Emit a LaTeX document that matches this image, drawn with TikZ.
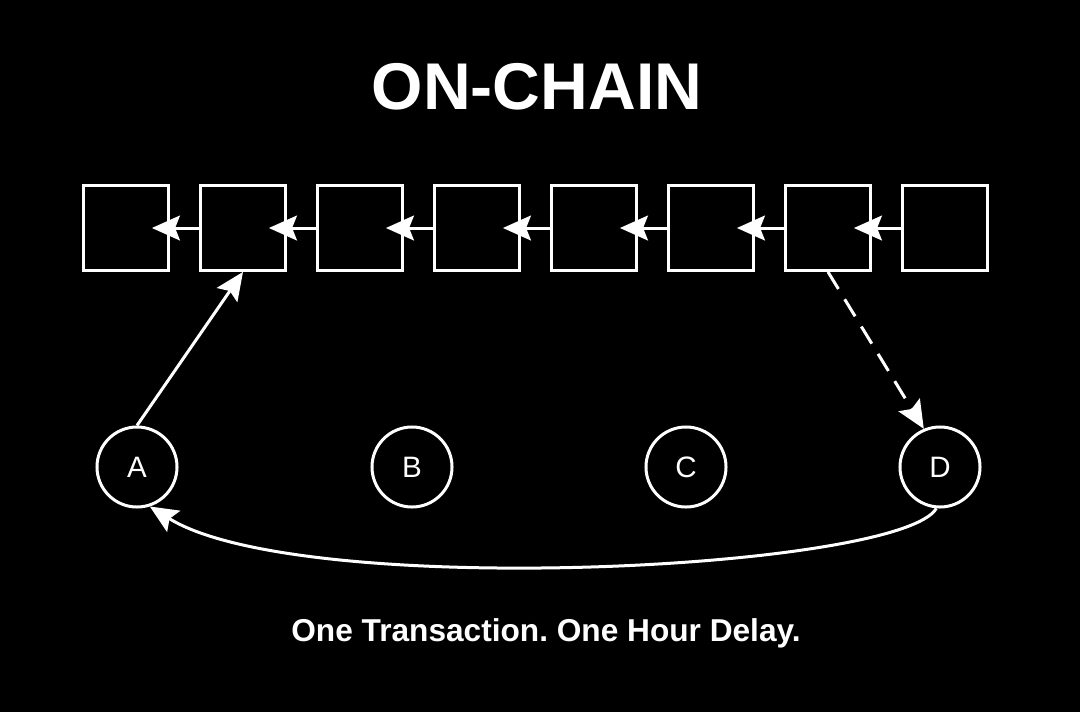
\documentclass[tikz,border=0pt]{standalone}
\usepackage{fontspec}
\setmainfont{Liberation Sans}
\usetikzlibrary{arrows.meta}
\frenchspacing

\begin{document}
\begin{tikzpicture}[x=0.025cm,y=-0.025cm,
    block/.style={draw=white, line width=0.075cm, minimum size=2.12cm, inner sep=0pt},
    station/.style={circle, draw=white, line width=0.075cm, minimum size=2cm, inner sep=0pt,
        text=white, font=\fontsize{21}{21}\selectfont},
    link/.style={white, line width=0.075cm, -{Stealth[length=0.7cm,width=0.62cm,inset=0.12cm]}}]
% Background
\fill[black] (0,0) rectangle (1080,712);
\useasboundingbox (0,0) rectangle (1080,712);

% Title
\node[text=white, font=\bfseries\fontsize{47}{47}\selectfont] (title) at (537,87) {ON-CHAIN};

% Blocks of the chain
\foreach \i in {1,...,8}
    \node[block] (b\i) at ({126+117*(\i-1)},228) {};
\foreach \i [count=\j from 2] in {1,...,7}
    \draw[link, shorten >=-0.45cm] (b\j.west) -- (b\i.east);

% Parties
\node[station] (A) at (137,467) {A};
\node[station] (B) at (412,467) {B};
\node[station] (C) at (686,467) {C};
\node[station] (D) at (940,467) {D};

% Transaction
\draw[link] (A.north) -- (b2.south);
\draw[link, dash pattern=on 0.5cm off 0.3cm] (b7.south) -- (D.113);
\draw[link] (D.-95) .. controls (900,570) and (300,600) .. (A.-72);

% Caption
\node[text=white, font=\bfseries\fontsize{22.5}{22.5}\selectfont] (caption) at (546,633)
    {One Transaction. One Hour Delay.};
\end{tikzpicture}
\end{document}
